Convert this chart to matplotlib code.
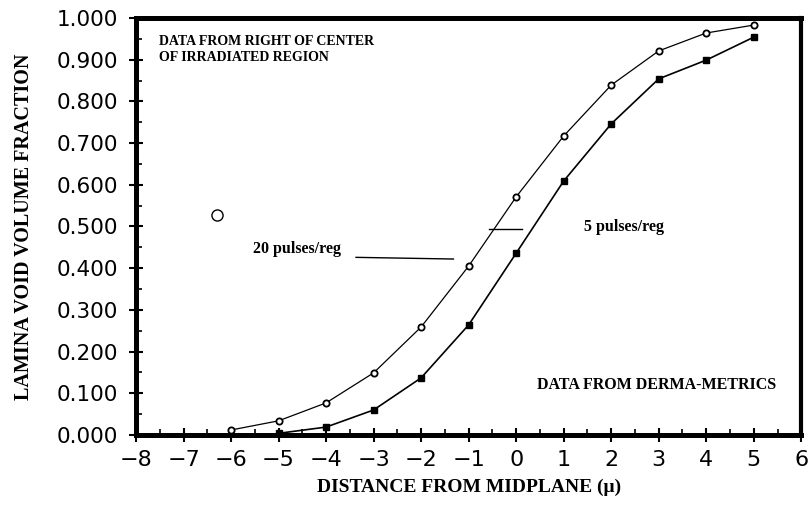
import numpy as np
import matplotlib
matplotlib.use("Agg")
import matplotlib.pyplot as plt
from matplotlib.ticker import MultipleLocator, FormatStrFormatter

# void fraction vs distance from midplane, two pulse counts
x_20 = [-6, -5, -4, -3, -2, -1, 0, 1, 2, 3, 4, 5]
y_20 = [0.012, 0.034, 0.077, 0.149, 0.259, 0.405, 0.571, 0.717, 0.839, 0.921, 0.964, 0.983]

x_5 = [-5, -4, -3, -2, -1, 0, 1, 2, 3, 4, 5]
y_5 = [0.004, 0.019, 0.060, 0.137, 0.264, 0.436, 0.609, 0.746, 0.854, 0.899, 0.954]

# lone open circle left of the curves
stray_x = [-6.29]
stray_y = [0.528]

serif = "Liberation Serif"

fig = plt.figure(figsize=(8.11, 5.05), dpi=100)
ax = fig.add_axes([0.1677, 0.1386, 0.8203, 0.8258])

ax.plot(x_20, y_20, color="black", lw=0.9, marker="o", ms=4.5,
        mfc="white", mec="black", mew=1.3)
ax.plot(x_5, y_5, color="black", lw=1.2, marker="s", ms=5,
        mfc="black", mec="black")
ax.plot(stray_x, stray_y, ls="none", marker="o", ms=8, mfc="white",
        mec="black", mew=1.0)

ax.set_xlim(-8, 6)
ax.set_ylim(0, 1)

ax.xaxis.set_major_locator(MultipleLocator(1))
ax.xaxis.set_minor_locator(MultipleLocator(0.5))
ax.yaxis.set_major_locator(MultipleLocator(0.1))
ax.yaxis.set_minor_locator(MultipleLocator(0.05))
ax.yaxis.set_major_formatter(FormatStrFormatter("%.3f"))

for s in ax.spines.values():
    s.set_linewidth(3.6)
ax.spines["right"].set_linewidth(3.0)

ax.tick_params(which="major", direction="inout", length=10, width=1.5)
ax.tick_params(which="minor", direction="in", length=4, width=1.2)
ax.tick_params(axis="y", which="both", right=False, labelsize=15.5, pad=8)
ax.tick_params(axis="x", which="both", top=False, labelsize=16, pad=6)
for lab in ax.get_xticklabels() + ax.get_yticklabels():
    lab.set_fontfamily("DejaVu Sans")

ax.set_ylabel("LAMINA VOID VOLUME FRACTION", fontfamily=serif,
              fontweight="bold", fontsize=14.5, labelpad=16)
ax.set_xlabel("DISTANCE FROM MIDPLANE (\u03bc)", fontfamily=serif,
              fontweight="bold", fontsize=14, labelpad=6)

# notes inside the frame
ax.text(0.034, 0.958, "DATA FROM RIGHT OF CENTER\nOF IRRADIATED REGION",
        transform=ax.transAxes, fontfamily=serif, fontweight="bold",
        fontsize=10, va="top", ha="left", linespacing=1.25)
ax.text(0.603, 0.12, "DATA FROM DERMA-METRICS", transform=ax.transAxes,
        fontfamily=serif, fontweight="bold", fontsize=11.5, va="center",
        ha="left")

# curve labels with leader lines
ax.text(-4.62, 0.445, "20 pulses/reg", fontfamily=serif, fontweight="bold",
        fontsize=11.5, ha="center", va="center")
ax.plot([-3.37, -1.32], [0.426, 0.422], color="black", lw=1.0)
ax.text(1.43, 0.499, "5 pulses/reg", fontfamily=serif, fontweight="bold",
        fontsize=11.5, ha="left", va="center")
ax.plot([-0.57, 0.12], [0.494, 0.494], color="black", lw=1.0)

fig.savefig("out.png", dpi=100)
